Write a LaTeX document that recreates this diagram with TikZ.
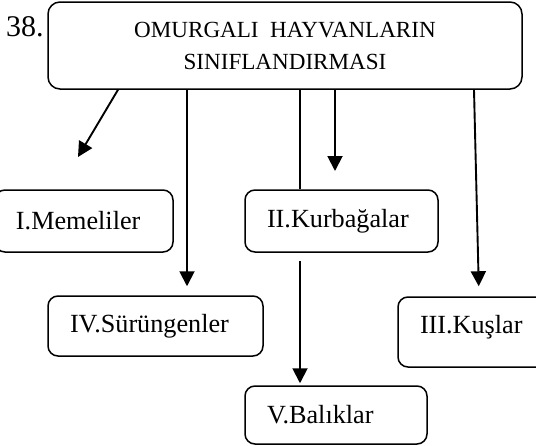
\documentclass[tikz,border=0pt]{standalone}
\usepackage{fontspec}
\setmainfont{Liberation Serif}
\usetikzlibrary{arrows.meta}
\begin{document}
\begin{tikzpicture}[x=1pt,y=-1pt,
  box/.style={draw, line width=1.5pt, rounded corners=10pt, inner xsep=22pt, inner ysep=0pt,
    align=left, font=\fontsize{26.2}{30}\selectfont},
  arr/.style={line width=1.9pt, -{Triangle[width=15pt,length=15pt]}},
  plain/.style={line width=1.2pt}]
\useasboundingbox (0,0) rectangle (536,445);
\node[draw, line width=1.5pt, rounded corners=12pt, minimum width=474pt, minimum height=87pt,
  inner sep=0pt, align=center, font=\fontsize{23.1}{32}\selectfont] (main) at (285,45.5)
  {OMURGALI\ \ HAYVANLARIN\\SINIFLANDIRMASI};
\node[anchor=base west, inner sep=0pt, font=\fontsize{30}{30}\selectfont] (num) at (6,36) {38.};
\node[box, inner xsep=21pt, text width=136pt, minimum height=62pt] (mem) at (84,221) {I.Memeliler};
\node[box, text width=149pt, minimum height=62pt] (kurb) at (341.5,221) {II.Kurbağalar};
\node[box, text width=171pt, minimum height=60pt] (iv) at (155.5,326) {IV.Sürüngenler};
\node[box, text width=150pt, minimum height=70pt, text depth=15pt] (kus) at (495,332) {III.Kuşlar};
\node[box, text width=138pt, minimum height=58pt] (bal) at (336,415) {V.Balıklar};
\coordinate (c1) at (78,157);
\coordinate (c4) at (335,171);
\draw[arr] (main.south -| 118,0) -- (c1);
\draw[arr, shorten >=9pt] (main.south -| 187,0) -- (iv.north -| 187,0);
\draw[plain] (main.south -| 300,0) -- (kurb.north -| 300,0);
\draw[arr] (main.south -| 335,0) -- (c4);
\draw[arr, shorten >=10pt] (main.south -| 474,0) -- (kus.north -| 479,0);
\draw[arr, shorten <=8pt, shorten >=2pt] (kurb.south -| 300,0) -- (bal.north -| 300,0);
\end{tikzpicture}
\end{document}
